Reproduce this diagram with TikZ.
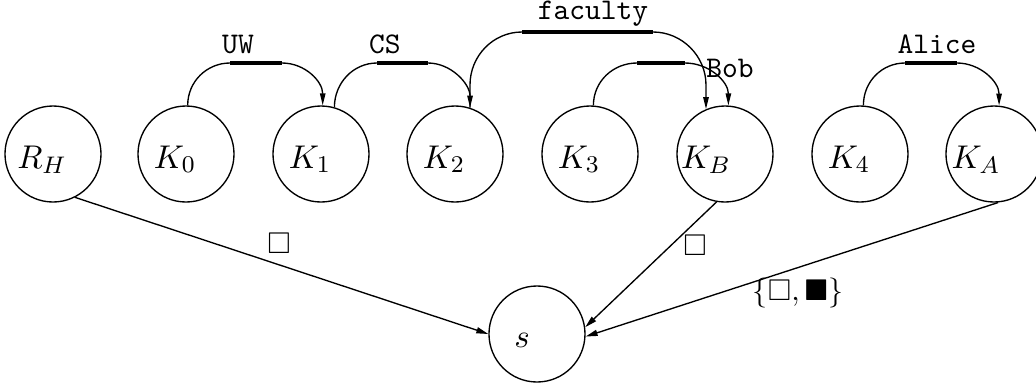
\documentclass[tikz,border=0pt]{standalone}
\usepackage{amssymb}
\usetikzlibrary{arrows.meta}
\begin{document}
\begin{tikzpicture}[x=0.3333pt,y=-0.3333pt,
  state/.style={circle,draw,line width=0.45pt,minimum size=32pt,inner sep=0pt},
  nlab/.style={anchor=base,inner sep=0pt,font=\fontsize{11}{13}\selectfont},
  tlab/.style={anchor=base,inner sep=0pt,font=\ttfamily\fontsize{10}{12}\selectfont},
  elab/.style={inner sep=0pt},
  arc/.style={line width=0.45pt,-{Triangle[length=4pt,width=1.8pt]}},
  mid/.style={line width=1.1pt},
  edge/.style={line width=0.45pt,-{Triangle[length=4pt,width=2pt]}}]
\useasboundingbox (0,0) rectangle (1036,389);
% circles
\node[state] (RH) at (53,154) {};
\node[state] (K0) at (186,154) {};
\node[state] (K1) at (321,154) {};
\node[state] (K2) at (455,154) {};
\node[state] (K3) at (590,154) {};
\node[state] (KB) at (725,154) {};
\node[state] (K4) at (860,154) {};
\node[state] (KA) at (994,154) {};
\node[state] (s) at (537,334) {};
% circle texts
\node[nlab] (tRH) at (42,168) {$R_H$};
\node[nlab] (tK0) at (175,168) {$K_0$};
\node[nlab] (tK1) at (310,168) {$K_1$};
\node[nlab] (tK2) at (444,168) {$K_2$};
\node[nlab] (tK3) at (579,168) {$K_3$};
\node[nlab] (tKB) at (706,168) {$K_B$};
\node[nlab] (tK4) at (849,168) {$K_4$};
\node[nlab] (tKA) at (976,168) {$K_A$};
\node[nlab] (ts) at (522,347) {$s$};
% top arcs
\draw[arc] (K0.88) .. controls +(0,-24) and +(-23,0) .. (230,63) -- (282,63)
   .. controls +(23,0) and +(0,-24) .. (K1.88);
\draw[mid] (230,63) -- (282,63);
\draw[arc] (K1.74) .. controls +(0,-24) and +(-24,0) .. (377,63) -- (428,63)
   .. controls +(23,0) and +(0,-24) .. (K2.72);
\draw[mid] (377,63) -- (428,63);
\draw[arc] (K2.72) -- (470,85) .. controls +(0,-29) and +(-29,0) .. (522,32) -- (653,32)
   .. controls +(29,0) and +(0,-29) .. (706,85) -- (KB.113);
\draw[mid] (522,32) -- (653,32);
\draw[arc] (K3.86) .. controls +(0,-24) and +(-24,0) .. (637,63) -- (685,63)
   .. controls +(24,0) and +(0,-24) .. (KB.86);
\draw[mid] (637,63) -- (685,63);
\draw[arc] (K4.86) .. controls +(0,-24) and +(-23,0) .. (905,63) -- (957,63)
   .. controls +(23,0) and +(0,-24) .. (KA.84);
\draw[mid] (905,63) -- (957,63);
% arc labels
\node[tlab] (lUW) at (238,53) {UW};
\node[tlab] (lCS) at (385,53) {CS};
\node[tlab] (lfac) at (593,19) {faculty};
\node[tlab] (lBob) at (730,77) {Bob};
\node[tlab] (lAl) at (937,53) {Alice};
% bottom edges
\draw[edge] (RH.-63) -- (s.180);
\draw[edge] (KB.-100) -- (s.8);
\draw[edge] (KA.-85) -- (s.-3);
\node[elab] (l1) at (279,243) {$\square$};
\node[elab] (l2) at (695,245) {$\square$};
\node[elab] (l3) at (798,293) {$\{\square,\blacksquare\}$};
\end{tikzpicture}
\end{document}
